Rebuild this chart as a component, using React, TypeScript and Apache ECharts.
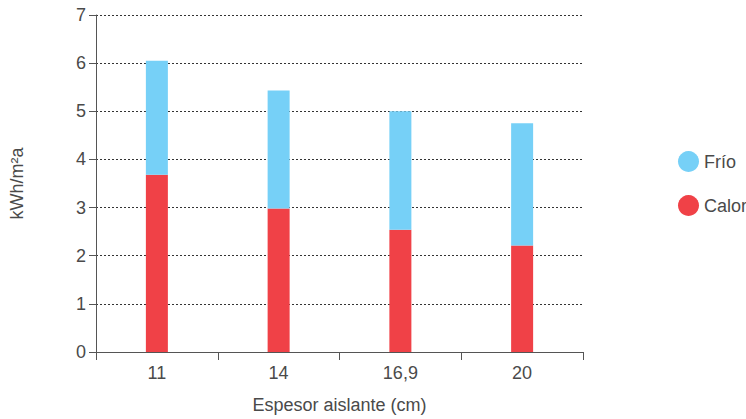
import React, { useEffect, useRef } from "react";
import * as echarts from "echarts";

const categories = ["11", "14", "16,9", "20"];
const calor = [3.68, 2.98, 2.54, 2.21];
const frio = [2.37, 2.45, 2.46, 2.54];
const yTicks = { min: 0, max: 7, interval: 1 };

export default function App() {
  const ref = useRef<HTMLDivElement>(null);
  useEffect(() => {
    if (!ref.current) return;
    const chart = echarts.init(ref.current, null, { renderer: "svg" });
    const font = "Liberation Sans";
    const txt = "#4a4a4a";
    chart.setOption({
      animation: false,
      textStyle: { fontFamily: font },
      grid: { left: 96, top: 15, right: 163, bottom: 65 },
      legend: {
        orient: "vertical",
        left: 673,
        top: 146,
        icon: "circle",
        itemWidth: 21,
        itemHeight: 21,
        itemGap: 23,
        data: ["Frío", "Calor"],
        textStyle: { fontSize: 18, color: txt, fontFamily: font },
      },
      xAxis: {
        type: "category",
        data: categories,
        name: "Espesor aislante (cm)",
        nameLocation: "middle",
        nameGap: 44,
        nameTextStyle: { fontSize: 18, color: txt, fontFamily: font },
        axisLine: { lineStyle: { color: "#555", width: 1 } },
        axisTick: { show: true, length: 8, lineStyle: { color: "#555" } },
        axisLabel: { fontSize: 18, color: txt, margin: 12, fontFamily: font },
      },
      yAxis: {
        type: "value",
        min: yTicks.min,
        max: yTicks.max,
        interval: yTicks.interval,
        name: "kWh/m²a",
        nameLocation: "middle",
        nameGap: 70,
        nameRotate: 90,
        nameTextStyle: { fontSize: 18, color: txt, fontFamily: font },
        axisLine: { show: true, lineStyle: { color: "#555", width: 1 } },
        axisTick: { show: true, length: 7, lineStyle: { color: "#555" } },
        axisLabel: { fontSize: 18, color: txt, margin: 10, fontFamily: font },
        splitLine: { show: true, lineStyle: { color: "#333", type: [2, 2], width: 1 } },
      },
      series: [
        {
          name: "Calor",
          type: "bar",
          stack: "total",
          data: calor,
          barWidth: 22,
          itemStyle: { color: "#f04147" },
        },
        {
          name: "Frío",
          type: "bar",
          stack: "total",
          data: frio,
          barWidth: 22,
          itemStyle: { color: "#76d0f7" },
        },
      ],
    });
    return () => chart.dispose();
  }, []);
  return <div ref={ref} style={{ width: 746, height: 419, position: "absolute", left: 0, top: 0 }} />;
}
